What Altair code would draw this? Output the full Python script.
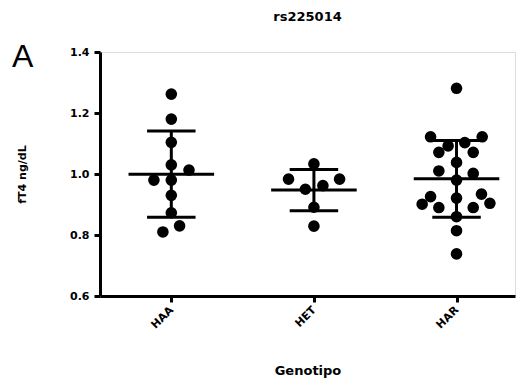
import altair as alt
import pandas as pd

groups = ["HAA", "HET", "HAR"]

haa_values = [1.262, 1.18, 1.104, 1.03, 1.013, 0.98, 0.98, 0.93, 0.873, 0.83, 0.81]
haa_offsets = [0, 0, 0, 0, 0.124, -0.122, 0, 0, 0, 0.058, -0.059]

het_values = [1.033, 0.983, 0.983, 0.95, 0.962, 0.891, 0.829]
het_offsets = [0, -0.178, 0.18, -0.06, 0.063, 0, 0]

har_values = [1.281, 1.122, 1.122, 1.092, 1.103, 1.071, 1.071, 1.038, 1.010, 1.002,
              0.980, 0.926, 0.901, 0.890, 0.921, 0.934, 0.904, 0.890, 0.860, 0.814, 0.738]
har_offsets = [0, -0.182, 0.18, -0.059, 0.058, -0.124, 0.117, 0, -0.124, 0.117,
               0, -0.182, -0.241, -0.124, 0, 0.175, 0.234, 0.117, 0, 0, 0]

rows = []
for i, (g, vals, offs) in enumerate(zip(groups, [haa_values, het_values, har_values],
                                        [haa_offsets, het_offsets, har_offsets])):
    for v, o in zip(vals, offs):
        rows.append({"group": g, "idx": i + 1, "value": v, "offset": o})
df = pd.DataFrame(rows)

FONT = "DejaVu Sans"
FONT_A = "Liberation Sans"

xscale = alt.Scale(domain=[0.5, 3.41], nice=False, zero=False)
yscale = alt.Scale(domain=[0.6, 1.4], nice=False, zero=False)

xaxis = alt.Axis(
    values=[1, 2, 3],
    labelExpr="datum.value == 1 ? 'HAA' : datum.value == 2 ? 'HET' : 'HAR'",
    labelAngle=-45, labelAlign="right", labelBaseline="middle",
    labelFont=FONT, labelFontWeight="bold", labelFontSize=11, labelColor="black",
    labelPadding=6, labelFlush=False,
    tickColor="black", tickWidth=3, tickSize=6,
    domainColor="black", domainWidth=3, grid=False,
    title="Genotipo", titleFont=FONT, titleFontWeight="bold", titleFontSize=13,
    titleColor="black", titleY=74, titleBaseline="middle",
)
yaxis = alt.Axis(
    values=[0.6, 0.8, 1.0, 1.2, 1.4], format=".1f",
    labelFont=FONT, labelFontWeight="bold", labelFontSize=11, labelColor="black",
    labelPadding=5,
    tickColor="black", tickWidth=3, tickSize=6,
    domainColor="black", domainWidth=3, grid=False,
    title="fT4 ng/dL", titleFont=FONT, titleFontWeight="bold", titleFontSize=11,
    titleColor="black", titleX=-78, titleY=122, titleAngle=-90,
    titleAlign="center", titleBaseline="middle",
)

base = alt.Chart(df)

points = base.transform_calculate(xpos="datum.idx + datum.offset").mark_point(
    filled=True, shape="circle", size=135, color="black", opacity=1
).encode(
    x=alt.X("xpos:Q", scale=xscale, axis=xaxis),
    y=alt.Y("value:Q", scale=yscale, axis=yaxis),
)

stats = base.transform_aggregate(
    mean="mean(value)", sd="stdev(value)", groupby=["group", "idx"]
).transform_calculate(
    lo="datum.mean - datum.sd", hi="datum.mean + datum.sd",
    xl="datum.idx - 0.3", xr="datum.idx + 0.3",
    cl="datum.idx - 0.17", cr="datum.idx + 0.17",
)

mean_line = stats.mark_rule(color="black", strokeWidth=3).encode(
    x=alt.X("xl:Q", scale=xscale), x2="xr:Q", y=alt.Y("mean:Q", scale=yscale)
)
sd_line = stats.mark_rule(color="black", strokeWidth=3).encode(
    x=alt.X("idx:Q", scale=xscale), y=alt.Y("lo:Q", scale=yscale), y2="hi:Q"
)
cap_hi = stats.mark_rule(color="black", strokeWidth=3).encode(
    x=alt.X("cl:Q", scale=xscale), x2="cr:Q", y=alt.Y("hi:Q", scale=yscale)
)
cap_lo = stats.mark_rule(color="black", strokeWidth=3).encode(
    x=alt.X("cl:Q", scale=xscale), x2="cr:Q", y=alt.Y("lo:Q", scale=yscale)
)

panel = alt.Chart(pd.DataFrame({"t": ["A"]})).mark_text(
    font=FONT_A, fontSize=32, color="black", align="left", baseline="middle"
).encode(text="t:N", x=alt.value(-88), y=alt.value(5))

chart = alt.layer(points, mean_line, sd_line, cap_hi, cap_lo, panel).properties(
    width=415, height=244,
    title=alt.TitleParams("rs225014", font=FONT, fontWeight="bold", fontSize=13,
                          color="black", anchor="middle", offset=17),
    autosize=alt.AutoSizeParams(type="none"),
    padding={"left": 100, "top": 52, "right": 12, "bottom": 90},
).configure_view(stroke=None).configure(background="white")

chart.save("out.html", embed_options={"renderer": "svg", "actions": False})
